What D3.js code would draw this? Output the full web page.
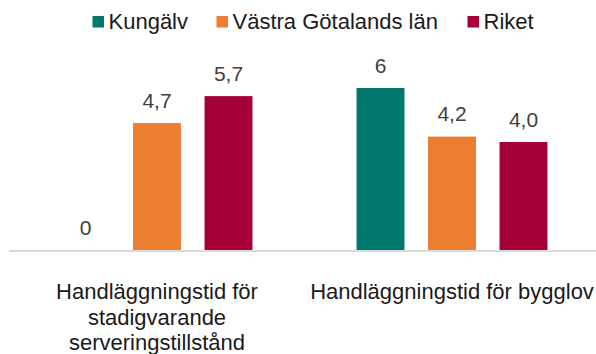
<!DOCTYPE html>
<html>
<head>
<meta charset="utf-8">
<script src="https://cdn.jsdelivr.net/npm/d3@7"></script>
<style>
  html, body { margin: 0; padding: 0; background: #fff; }
  svg { display: block; font-family: "Liberation Sans", Arial, sans-serif; }
</style>
</head>
<body>
<svg id="chart" width="596" height="354"></svg>
<script>
// Categories (each label split into its drawn lines)
const categories = ["serveringstillstand", "bygglov"];
const categoryLines = [
  ["Handläggningstid för", "stadigvarande", "serveringstillstånd"],
  ["Handläggningstid för bygglov"]
];

// Series
const seriesNames = ["Kungälv", "Västra Götalands län", "Riket"];
const seriesColors = ["#00786c", "#ed7d31", "#a6003a"];

// Values per series, in category order
const kungalv = [0, 6];
const vastraGotaland = [4.7, 4.2];
const riket = [5.7, 4.0];

// Value labels as printed
const kungalvLabels = ["0", "6"];
const vastraGotalandLabels = ["4,7", "4,2"];
const riketLabels = ["5,7", "4,0"];

const seriesValues = [kungalv, vastraGotaland, riket];
const seriesLabels = [kungalvLabels, vastraGotalandLabels, riketLabels];

const svg = d3.select("#chart");
const baseline = 250;

const y = d3.scaleLinear().domain([0, 7]).range([baseline, 61]);

const x0 = d3.scaleBand().domain(categories).range([9.5, 599.5]).padding(0);
const x1 = d3.scaleBand().domain(seriesNames)
  .range([40.25, 254.75]).paddingInner(0.33).paddingOuter(0.165);

// Bars and value labels
const rows = [];
categories.forEach((c, ci) => {
  seriesNames.forEach((s, si) => {
    rows.push({ cat: c, series: s, color: seriesColors[si],
                value: seriesValues[si][ci], label: seriesLabels[si][ci] });
  });
});

const g = svg.append("g");

g.selectAll("rect.bar").data(rows).join("rect")
  .attr("class", "bar")
  .attr("x", d => x0(d.cat) + x1(d.series))
  .attr("width", x1.bandwidth())
  .attr("y", d => y(d.value))
  .attr("height", d => baseline - y(d.value))
  .attr("fill", d => d.color);

g.selectAll("text.val").data(rows).join("text")
  .attr("class", "val")
  .attr("x", d => x0(d.cat) + x1(d.series) + x1.bandwidth() / 2)
  .attr("y", d => y(d.value) - 15.5)
  .attr("text-anchor", "middle")
  .attr("font-size", 21)
  .attr("fill", "#404040")
  .text(d => d.label);

// Category axis line
svg.append("line")
  .attr("x1", 9).attr("x2", 596)
  .attr("y1", baseline + 1).attr("y2", baseline + 1)
  .attr("stroke", "#d9d9d9").attr("stroke-width", 2);

// Category labels
categories.forEach((c, ci) => {
  const t = svg.append("text")
    .attr("text-anchor", "middle")
    .attr("font-size", 22)
    .attr("fill", "#1a1a1a");
  categoryLines[ci].forEach((line, li) => {
    t.append("tspan")
      .attr("x", x0(c) + x0.bandwidth() / 2)
      .attr("y", 299 + li * 25.5)
      .text(line);
  });
});

// Legend
const legendX = [92.5, 216.5, 467.5];
const legend = svg.append("g");
seriesNames.forEach((s, i) => {
  legend.append("rect")
    .attr("x", legendX[i]).attr("y", 16)
    .attr("width", 11.5).attr("height", 11.5)
    .attr("fill", seriesColors[i]);
  legend.append("text")
    .attr("x", legendX[i] + 16)
    .attr("y", 28.5)
    .attr("font-size", 22)
    .attr("fill", "#1a1a1a")
    .text(s);
});
</script>
</body>
</html>
